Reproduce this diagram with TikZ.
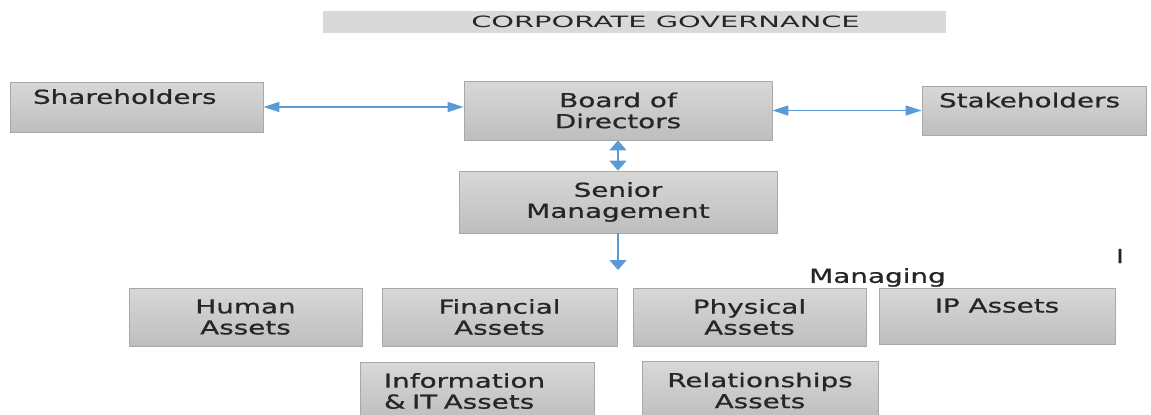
\documentclass[tikz,border=0pt]{standalone}
\usepackage{fontspec}
\setmainfont{DejaVu Sans}[FakeStretch=1.45,FakeBold=0.8]
\newfontfamily\titlefont{DejaVu Sans}[FakeStretch=1.85]
\usetikzlibrary{arrows.meta}

\definecolor{boxtop}{RGB}{216,216,216}
\definecolor{boxbot}{RGB}{190,190,190}
\definecolor{boxline}{RGB}{168,168,168}
\definecolor{barfill}{RGB}{217,217,217}
\definecolor{linkblue}{RGB}{91,155,213}
\definecolor{ink}{RGB}{38,38,38}

\tikzset{
  box/.style={draw=boxline, top color=boxtop, bottom color=boxbot, text=ink,
    align=center, inner sep=0pt, font=\fontsize{9.6}{10.5}\selectfont},
  leftbox/.style={box, align=left, inner xsep=#1},
  hlink/.style={draw=linkblue, line width=0.75pt, >={Triangle[width=5pt,length=8pt]}},
  vlink/.style={draw=linkblue, line width=0.75pt, >={Triangle[width=8.5pt,length=5pt]}},
}

\begin{document}
\begin{tikzpicture}[x=0.5pt,y=-0.5pt]
  \useasboundingbox (0,0) rectangle (1151,414);
  \clip (0,0) rectangle (1151,414);

  % title bar
  \node[fill=barfill, minimum width=311.5pt, minimum height=11pt, inner sep=0pt] (bar) at (634.5,22) {};
  \node[text=ink, inner sep=0pt, font=\titlefont\fontsize{7.8}{8}\selectfont] (title) at (665.5,21.5) {CORPORATE GOVERNANCE};

  % top row
  \node[leftbox=11.5pt, text width=103.5pt, minimum height=25pt] (share) at (136.5,107) {Shareholders\\~};
  \node[box, minimum width=154pt, minimum height=29.5pt] (board) at (618,110.5) {Board of\\Directors};
  \node[leftbox=8.5pt, text width=95pt, minimum height=24.5pt] (stake) at (1034,110.5) {Stakeholders\\~};

  \node[box, minimum width=159pt, minimum height=31pt] (senior) at (618,202) {Senior\\Management};
  \coordinate (down) at (618,270);

  % assets
  \node[box, minimum width=116.5pt, minimum height=29pt] (human) at (245.5,317) {Human\\Assets};
  \node[box, minimum width=117.5pt, minimum height=29pt] (fin) at (499.5,317) {Financial\\Assets};
  \node[box, minimum width=116.5pt, minimum height=29pt] (phys) at (749.5,317) {Physical\\Assets};
  \node[box, minimum width=118pt, minimum height=28pt] (ip) at (997,316) {IP Assets\\~};
  \node[leftbox=12pt, text width=93pt, minimum height=29pt] (info) at (477,391) {Information\\\& IT Assets};
  \node[box, minimum width=118pt, minimum height=29pt] (rel) at (760,390.5) {Relationships\\Assets};

  \node[text=ink, inner sep=0pt, font=\fontsize{9.6}{10.5}\selectfont] (managing) at (877.5,277.5) {Managing};
  \node[text=ink, inner sep=0pt, font=\fontsize{9.6}{10.5}\selectfont] (cursor) at (1120,256) {I};

  % links
  \draw[hlink,<->] (share.east) -- (share.east -| board.west);
  \draw[hlink,<->] (board.east) -- (stake.west);
  \draw[vlink,<->] (board.south) -- (senior.north);
  \draw[vlink,->] (senior.south) -- (down);
\end{tikzpicture}
\end{document}
